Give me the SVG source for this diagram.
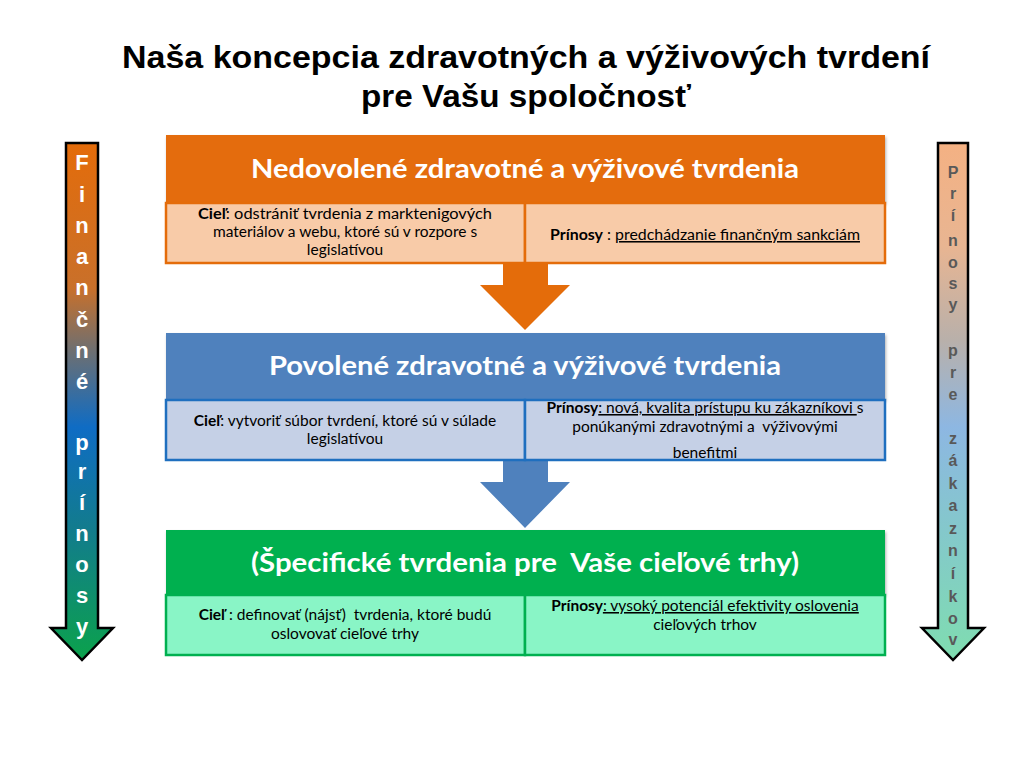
<svg xmlns="http://www.w3.org/2000/svg" width="1024" height="768" viewBox="0 0 1024 768">
<defs>
<linearGradient id="gLeft" x1="0" y1="143" x2="0" y2="660" gradientUnits="userSpaceOnUse">
<stop offset="0" stop-color="#E46C0A"/>
<stop offset="0.28" stop-color="#C9702A"/>
<stop offset="0.40" stop-color="#6F6F70"/>
<stop offset="0.55" stop-color="#0F6CC4"/>
<stop offset="0.75" stop-color="#127C8C"/>
<stop offset="1" stop-color="#0BA24C"/>
</linearGradient>
<linearGradient id="gRight" x1="0" y1="143" x2="0" y2="660" gradientUnits="userSpaceOnUse">
<stop offset="0" stop-color="#F4B183"/>
<stop offset="0.2" stop-color="#E8B592"/>
<stop offset="0.38" stop-color="#B9B0AA"/>
<stop offset="0.55" stop-color="#8DB7E2"/>
<stop offset="0.75" stop-color="#84C8CB"/>
<stop offset="1" stop-color="#7FDDB0"/>
</linearGradient>
<filter id="sh" x="-5%" y="-10%" width="110%" height="130%">
<feDropShadow dx="1" dy="2" stdDeviation="1.5" flood-color="#000" flood-opacity="0.3"/>
</filter>
</defs>
<style>
.title{font-family:"Liberation Sans",Arial,sans-serif;font-weight:bold;font-size:32px;fill:#000;text-anchor:middle}
.head{font-family:Lato,"Liberation Sans",sans-serif;font-weight:bold;font-size:26px;fill:#fff;text-anchor:middle;white-space:pre}
.cell{font-family:Lato,"Liberation Sans",sans-serif;font-size:15.5px;fill:#000;text-anchor:middle;white-space:pre}
.b{font-weight:bold}
.u{text-decoration:underline}
.lv{font-family:"Liberation Sans",Arial,sans-serif;font-weight:bold;font-size:22px;fill:#fff;text-anchor:middle}
.rv{font-family:"Liberation Sans",Arial,sans-serif;font-weight:bold;font-size:16px;fill:#595959;text-anchor:middle}
.arr{stroke:#000;stroke-width:2.5;stroke-linejoin:miter}
</style>
<rect width="1024" height="768" fill="#fff"/>

<g id="title">
<text class="title" x="526" y="68" textLength="808" lengthAdjust="spacingAndGlyphs">Naša koncepcia zdravotných a výživových tvrdení</text>
<text class="title" x="526" y="107" textLength="330" lengthAdjust="spacingAndGlyphs">pre Vašu spoločnosť</text>
</g>

<g id="left-arrow">
<path class="arr" d="M66,143 H98 V628 H113 L82,660 L51,628 H66 Z" fill="url(#gLeft)"/>
<text class="lv" x="82" y="170">F</text>
<text class="lv" x="82" y="202">i</text>
<text class="lv" x="82" y="233">n</text>
<text class="lv" x="82" y="264">a</text>
<text class="lv" x="82" y="295">n</text>
<text class="lv" x="82" y="327">č</text>
<text class="lv" x="82" y="358">n</text>
<text class="lv" x="82" y="389">é</text>
<text class="lv" x="82" y="450">p</text>
<text class="lv" x="82" y="479">r</text>
<text class="lv" x="82" y="510">í</text>
<text class="lv" x="82" y="541">n</text>
<text class="lv" x="82" y="572">o</text>
<text class="lv" x="82" y="603">s</text>
<text class="lv" x="82" y="634">y</text>
</g>

<g id="right-arrow">
<path class="arr" d="M938,143 H968 V628 H984 L953,660 L922,628 H938 Z" fill="url(#gRight)"/>
<text class="rv" x="953" y="178">P</text>
<text class="rv" x="953" y="199">r</text>
<text class="rv" x="953" y="221">í</text>
<text class="rv" x="953" y="246">n</text>
<text class="rv" x="953" y="268">o</text>
<text class="rv" x="953" y="289">s</text>
<text class="rv" x="953" y="310">y</text>
<text class="rv" x="953" y="356">p</text>
<text class="rv" x="953" y="378">r</text>
<text class="rv" x="953" y="400">e</text>
<text class="rv" x="953" y="444">z</text>
<text class="rv" x="953" y="466">á</text>
<text class="rv" x="953" y="489">k</text>
<text class="rv" x="953" y="511">a</text>
<text class="rv" x="953" y="534">z</text>
<text class="rv" x="953" y="556">n</text>
<text class="rv" x="953" y="579">í</text>
<text class="rv" x="953" y="602">k</text>
<text class="rv" x="953" y="624">o</text>
<text class="rv" x="953" y="645">v</text>
</g>

<g id="connectors">
<path d="M503,263 H548 V285 H570 L525,330 L480,285 H503 Z" fill="#E46C0A"/>
<path d="M503,460 H548 V482 H570 L525,528 L480,482 H503 Z" fill="#4F81BD"/>
</g>

<g id="node-nedovolene">
<rect x="166" y="135" width="719" height="68" fill="#E46C0A" filter="url(#sh)"/>
<text class="head" x="525" y="178" textLength="548" lengthAdjust="spacingAndGlyphs">Nedovolené zdravotné a výživové tvrdenia</text>
<rect x="166" y="203" width="359" height="60" fill="#F8CBA8" stroke="#E46C0A" stroke-width="2.5"/>
<rect x="525" y="203" width="360" height="60" fill="#F8CBA8" stroke="#E46C0A" stroke-width="2.5"/>
<text class="cell" x="345" y="219" textLength="294" lengthAdjust="spacingAndGlyphs"><tspan class="b">Cieľ</tspan>: odstrániť tvrdenia z marktenigových</text>
<text class="cell" x="345" y="237">materiálov a webu, ktoré sú v rozpore s</text>
<text class="cell" x="345" y="255">legislatívou</text>
<text class="cell" x="705" y="240" textLength="310" lengthAdjust="spacingAndGlyphs"><tspan class="b">Prínosy</tspan> : <tspan class="u">predchádzanie finančným sankciám</tspan></text>
</g>

<g id="node-povolene">
<rect x="166" y="333" width="719" height="67" fill="#4F81BD" filter="url(#sh)"/>
<text class="head" x="525" y="375" textLength="512" lengthAdjust="spacingAndGlyphs">Povolené zdravotné a výživové tvrdenia</text>
<rect x="166" y="400" width="359" height="60" fill="#C5D0E6" stroke="#1F6FBF" stroke-width="2.5"/>
<rect x="525" y="400" width="360" height="60" fill="#C5D0E6" stroke="#1F6FBF" stroke-width="2.5"/>
<text class="cell" x="345" y="426"><tspan class="b">Cieľ</tspan>: vytvoriť súbor tvrdení, ktoré sú v súlade</text>
<text class="cell" x="345" y="444">legislatívou</text>
<text class="cell" x="705" y="413"><tspan class="b">Prínosy</tspan><tspan class="u">: nová, kvalita prístupu ku zákazníkovi </tspan>s</text>
<text class="cell" x="705" y="432">ponúkanými zdravotnými a  výživovými</text>
<text class="cell" x="705" y="458">benefitmi</text>
</g>

<g id="node-specificke">
<rect x="166" y="530" width="719" height="65" fill="#00B050" filter="url(#sh)"/>
<text class="head" x="525" y="572" textLength="548" lengthAdjust="spacingAndGlyphs">(Špecifické tvrdenia pre  Vaše cieľové trhy)</text>
<rect x="166" y="595" width="359" height="60" fill="#89F5C6" stroke="#00B050" stroke-width="2.5"/>
<rect x="525" y="595" width="360" height="60" fill="#89F5C6" stroke="#00B050" stroke-width="2.5"/>
<text class="cell" x="345" y="620"><tspan class="b">Cieľ</tspan> : definovať (nájsť)  tvrdenia, ktoré budú</text>
<text class="cell" x="345" y="639">oslovovať cieľové trhy</text>
<text class="cell" x="705" y="611"><tspan class="b">Prínosy</tspan><tspan class="u">: vysoký potenciál efektivity oslovenia</tspan></text>
<text class="cell" x="705" y="630">cieľových trhov</text>
</g>
</svg>
